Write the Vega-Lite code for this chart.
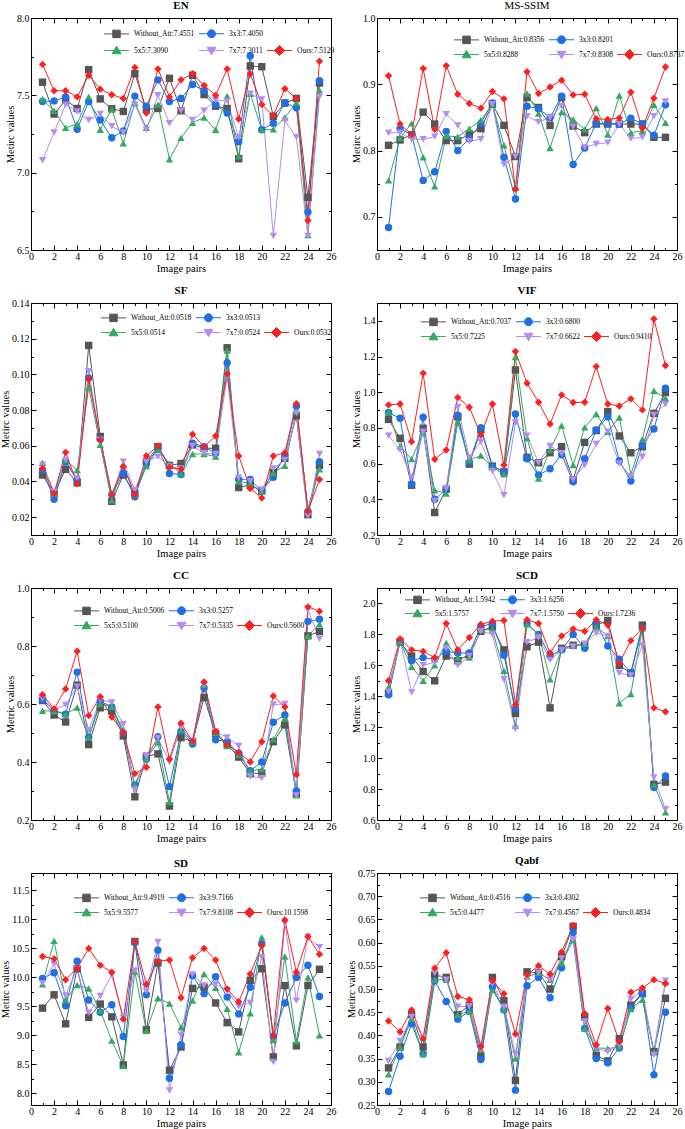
{
"$schema": "https://vega.github.io/schema/vega-lite/v6.json",
"background": "white",
"padding": {"left": 0, "top": 0, "right": 5, "bottom": 0},
"params": [
 {"name": "SH", "value": {"Without_Att": "M-2.5,0H2.5M-0.75,-0.75H0.75V0.75H-0.75Z", "3x3": "M-2.5,0H2.5M-0.8,0A0.8,0.8 0 1,0 0.8,0A0.8,0.8 0 1,0 -0.8,0Z", "5x5": "M-2.5,0H2.5M0,-0.85L0.9,0.65L-0.9,0.65Z", "7x7": "M-2.5,0H2.5M0,0.85L0.9,-0.65L-0.9,-0.65Z", "Ours": "M-2.5,0H2.5M0,-1L1,0L0,1L-1,0Z", "_": "M0,0Z"}},
 {"name": "CL", "value": {"Without_Att": "#555555", "3x3": "#1f6fe5", "5x5": "#35a862", "7x7": "#b58cf0", "Ours": "#ff1f1f", "_": "transparent"}},
 {"name": "LB", "value": {
  "EN": {"Without_Att": "7.4551", "3x3": "7.4050", "5x5": "7.3090", "7x7": "7.3011", "Ours": "7.5129"},
  "MS": {"Without_Att": "0.8356", "3x3": "0.8201", "5x5": "0.8288", "7x7": "0.8308", "Ours": "0.8737"},
  "SF": {"Without_Att": "0.0518", "3x3": "0.0513", "5x5": "0.0514", "7x7": "0.0524", "Ours": "0.0532"},
  "VIF": {"Without_Att": "0.7037", "3x3": "0.6800", "5x5": "0.7225", "7x7": "0.6622", "Ours": "0.9410"},
  "CC": {"Without_Att": "0.5006", "3x3": "0.5257", "5x5": "0.5100", "7x7": "0.5335", "Ours": "0.5600"},
  "SCD": {"Without_Att": "1.5942", "3x3": "1.6256", "5x5": "1.5757", "7x7": "1.5750", "Ours": "1.7236"},
  "SD": {"Without_Att": "9.4919", "3x3": "9.7166", "5x5": "9.5577", "7x7": "9.8108", "Ours": "10.1598"},
  "Qabf": {"Without_Att": "0.4516", "3x3": "0.4302", "5x5": "0.4477", "7x7": "0.4567", "Ours": "0.4834"}}}
],
"config": {
 "font": "Liberation Serif",
 "view": {"stroke": null},
 "axis": {"grid": false, "domainColor": "#000", "tickColor": "#000", "labelColor": "#000", "titleColor": "#000", "labelFontSize": 10, "titleFontSize": 10.5, "titleFontWeight": "normal", "labelFont": "Liberation Serif", "titleFont": "Liberation Serif"},
 "legend": {"labelFont": "Liberation Serif", "labelFontSize": 7.5, "labelColor": "#000", "padding": 0, "rowPadding": 1, "columnPadding": 2, "labelOffset": 12, "labelLimit": 0, "symbolSize": 100},
 "title": {"font": "Liberation Serif", "fontSize": 11, "color": "#000", "offset": 2, "anchor": "middle"}
},
"datasets": {"d": [
{"m":"EN","x":1,"Without_Att":7.585,"3x3":7.46,"5x5":7.475,"7x7":7.08,"Ours":7.70},
{"m":"EN","x":2,"Without_Att":7.379,"3x3":7.464,"5x5":7.40,"7x7":7.26,"Ours":7.53},
{"m":"EN","x":3,"Without_Att":7.47,"3x3":7.49,"5x5":7.29,"7x7":7.44,"Ours":7.53},
{"m":"EN","x":4,"Without_Att":7.415,"3x3":7.281,"5x5":7.315,"7x7":7.396,"Ours":7.49},
{"m":"EN","x":5,"Without_Att":7.666,"3x3":7.46,"5x5":7.49,"7x7":7.34,"Ours":7.63},
{"m":"EN","x":6,"Without_Att":7.477,"3x3":7.34,"5x5":7.277,"7x7":7.38,"Ours":7.54},
{"m":"EN","x":7,"Without_Att":7.413,"3x3":7.226,"5x5":7.41,"7x7":7.30,"Ours":7.504},
{"m":"EN","x":8,"Without_Att":7.396,"3x3":7.27,"5x5":7.19,"7x7":7.26,"Ours":7.48},
{"m":"EN","x":9,"Without_Att":7.64,"3x3":7.495,"5x5":7.45,"7x7":7.44,"Ours":7.68},
{"m":"EN","x":10,"Without_Att":7.41,"3x3":7.43,"5x5":7.29,"7x7":7.277,"Ours":7.385},
{"m":"EN","x":11,"Without_Att":7.415,"3x3":7.60,"5x5":7.44,"7x7":7.50,"Ours":7.67},
{"m":"EN","x":12,"Without_Att":7.61,"3x3":7.46,"5x5":7.087,"7x7":7.32,"Ours":7.49},
{"m":"EN","x":13,"Without_Att":7.40,"3x3":7.48,"5x5":7.225,"7x7":7.40,"Ours":7.60},
{"m":"EN","x":14,"Without_Att":7.63,"3x3":7.57,"5x5":7.323,"7x7":7.34,"Ours":7.64},
{"m":"EN","x":15,"Without_Att":7.505,"3x3":7.53,"5x5":7.357,"7x7":7.40,"Ours":7.564},
{"m":"EN","x":16,"Without_Att":7.43,"3x3":7.44,"5x5":7.277,"7x7":7.468,"Ours":7.50},
{"m":"EN","x":17,"Without_Att":7.415,"3x3":7.385,"5x5":7.495,"7x7":7.464,"Ours":7.67},
{"m":"EN","x":18,"Without_Att":7.09,"3x3":7.20,"5x5":7.106,"7x7":7.23,"Ours":7.347},
{"m":"EN","x":19,"Without_Att":7.69,"3x3":7.755,"5x5":7.51,"7x7":7.51,"Ours":7.64},
{"m":"EN","x":20,"Without_Att":7.685,"3x3":7.277,"5x5":7.277,"7x7":7.474,"Ours":7.44},
{"m":"EN","x":21,"Without_Att":7.364,"3x3":7.32,"5x5":7.28,"7x7":6.59,"Ours":7.368},
{"m":"EN","x":22,"Without_Att":7.45,"3x3":7.45,"5x5":7.357,"7x7":7.336,"Ours":7.543},
{"m":"EN","x":23,"Without_Att":7.48,"3x3":7.42,"5x5":7.453,"7x7":7.23,"Ours":7.48},
{"m":"EN","x":24,"Without_Att":6.84,"3x3":6.745,"5x5":6.596,"7x7":6.59,"Ours":6.69},
{"m":"EN","x":25,"Without_Att":7.58,"3x3":7.595,"5x5":7.532,"7x7":7.49,"Ours":7.72},
{"m":"MS","x":1,"Without_Att":0.808,"3x3":0.684,"5x5":0.755,"7x7":0.827,"Ours":0.913},
{"m":"MS","x":2,"Without_Att":0.816,"3x3":0.833,"5x5":0.819,"7x7":0.827,"Ours":0.840},
{"m":"MS","x":3,"Without_Att":0.824,"3x3":0.824,"5x5":0.841,"7x7":0.817,"Ours":0.824},
{"m":"MS","x":4,"Without_Att":0.858,"3x3":0.755,"5x5":0.790,"7x7":0.817,"Ours":0.924},
{"m":"MS","x":5,"Without_Att":0.840,"3x3":0.768,"5x5":0.746,"7x7":0.821,"Ours":0.832},
{"m":"MS","x":6,"Without_Att":0.815,"3x3":0.829,"5x5":0.822,"7x7":0.855,"Ours":0.928},
{"m":"MS","x":7,"Without_Att":0.815,"3x3":0.800,"5x5":0.821,"7x7":0.838,"Ours":0.885},
{"m":"MS","x":8,"Without_Att":0.825,"3x3":0.818,"5x5":0.833,"7x7":0.814,"Ours":0.871},
{"m":"MS","x":9,"Without_Att":0.833,"3x3":0.841,"5x5":0.846,"7x7":0.817,"Ours":0.864},
{"m":"MS","x":10,"Without_Att":0.870,"3x3":0.872,"5x5":0.870,"7x7":0.870,"Ours":0.889},
{"m":"MS","x":11,"Without_Att":0.838,"3x3":0.790,"5x5":0.808,"7x7":0.779,"Ours":0.878},
{"m":"MS","x":12,"Without_Att":0.791,"3x3":0.727,"5x5":0.744,"7x7":0.791,"Ours":0.742},
{"m":"MS","x":13,"Without_Att":0.880,"3x3":0.867,"5x5":0.886,"7x7":0.852,"Ours":0.919},
{"m":"MS","x":14,"Without_Att":0.865,"3x3":0.863,"5x5":0.856,"7x7":0.843,"Ours":0.886},
{"m":"MS","x":15,"Without_Att":0.838,"3x3":0.850,"5x5":0.804,"7x7":0.850,"Ours":0.896},
{"m":"MS","x":16,"Without_Att":0.880,"3x3":0.882,"5x5":0.858,"7x7":0.867,"Ours":0.906},
{"m":"MS","x":17,"Without_Att":0.837,"3x3":0.779,"5x5":0.847,"7x7":0.836,"Ours":0.884},
{"m":"MS","x":18,"Without_Att":0.827,"3x3":0.804,"5x5":0.832,"7x7":0.805,"Ours":0.885},
{"m":"MS","x":19,"Without_Att":0.840,"3x3":0.841,"5x5":0.864,"7x7":0.810,"Ours":0.848},
{"m":"MS","x":20,"Without_Att":0.840,"3x3":0.841,"5x5":0.824,"7x7":0.812,"Ours":0.847},
{"m":"MS","x":21,"Without_Att":0.840,"3x3":0.840,"5x5":0.883,"7x7":0.840,"Ours":0.849},
{"m":"MS","x":22,"Without_Att":0.840,"3x3":0.849,"5x5":0.827,"7x7":0.818,"Ours":0.888},
{"m":"MS","x":23,"Without_Att":0.840,"3x3":0.840,"5x5":0.830,"7x7":0.820,"Ours":0.834},
{"m":"MS","x":24,"Without_Att":0.820,"3x3":0.823,"5x5":0.869,"7x7":0.852,"Ours":0.879},
{"m":"MS","x":25,"Without_Att":0.820,"3x3":0.869,"5x5":0.842,"7x7":0.874,"Ours":0.926},
{"m":"SF","x":1,"Without_Att":0.0436,"3x3":0.0464,"5x5":0.0505,"7x7":0.0492,"Ours":0.0473},
{"m":"SF","x":2,"Without_Att":0.0332,"3x3":0.030,"5x5":0.0332,"7x7":0.0342,"Ours":0.0332},
{"m":"SF","x":3,"Without_Att":0.0468,"3x3":0.051,"5x5":0.052,"7x7":0.052,"Ours":0.0563},
{"m":"SF","x":4,"Without_Att":0.0392,"3x3":0.0408,"5x5":0.0464,"7x7":0.0417,"Ours":0.0389},
{"m":"SF","x":5,"Without_Att":0.1162,"3x3":0.098,"5x5":0.0928,"7x7":0.1018,"Ours":0.0975},
{"m":"SF","x":6,"Without_Att":0.0652,"3x3":0.0637,"5x5":0.0605,"7x7":0.0633,"Ours":0.0633},
{"m":"SF","x":7,"Without_Att":0.0289,"3x3":0.0327,"5x5":0.0295,"7x7":0.0323,"Ours":0.0327},
{"m":"SF","x":8,"Without_Att":0.0436,"3x3":0.0445,"5x5":0.0496,"7x7":0.0511,"Ours":0.0483},
{"m":"SF","x":9,"Without_Att":0.0332,"3x3":0.0314,"5x5":0.0327,"7x7":0.0351,"Ours":0.0327},
{"m":"SF","x":10,"Without_Att":0.0511,"3x3":0.0498,"5x5":0.0486,"7x7":0.051,"Ours":0.0543},
{"m":"SF","x":11,"Without_Att":0.0595,"3x3":0.0586,"5x5":0.0577,"7x7":0.0539,"Ours":0.0599},
{"m":"SF","x":12,"Without_Att":0.049,"3x3":0.0445,"5x5":0.0501,"7x7":0.0483,"Ours":0.0479},
{"m":"SF","x":13,"Without_Att":0.0501,"3x3":0.0439,"5x5":0.0441,"7x7":0.0473,"Ours":0.0468},
{"m":"SF","x":14,"Without_Att":0.0605,"3x3":0.0614,"5x5":0.0554,"7x7":0.0599,"Ours":0.0665},
{"m":"SF","x":15,"Without_Att":0.0586,"3x3":0.0595,"5x5":0.0554,"7x7":0.0558,"Ours":0.0595},
{"m":"SF","x":16,"Without_Att":0.0586,"3x3":0.0558,"5x5":0.0539,"7x7":0.0552,"Ours":0.0655},
{"m":"SF","x":17,"Without_Att":0.1149,"3x3":0.1065,"5x5":0.1134,"7x7":0.099,"Ours":0.1003},
{"m":"SF","x":18,"Without_Att":0.0366,"3x3":0.0411,"5x5":0.040,"7x7":0.0421,"Ours":0.0543},
{"m":"SF","x":19,"Without_Att":0.038,"3x3":0.0411,"5x5":0.0389,"7x7":0.0402,"Ours":0.0361},
{"m":"SF","x":20,"Without_Att":0.0346,"3x3":0.0347,"5x5":0.0342,"7x7":0.0355,"Ours":0.0308},
{"m":"SF","x":21,"Without_Att":0.045,"3x3":0.0423,"5x5":0.0449,"7x7":0.0473,"Ours":0.0543},
{"m":"SF","x":22,"Without_Att":0.053,"3x3":0.055,"5x5":0.0488,"7x7":0.052,"Ours":0.0561},
{"m":"SF","x":23,"Without_Att":0.0768,"3x3":0.0821,"5x5":0.0792,"7x7":0.0783,"Ours":0.0836},
{"m":"SF","x":24,"Without_Att":0.0214,"3x3":0.0233,"5x5":0.0248,"7x7":0.0207,"Ours":0.0233},
{"m":"SF","x":25,"Without_Att":0.049,"3x3":0.0511,"5x5":0.0468,"7x7":0.0554,"Ours":0.0411},
{"m":"VIF","x":1,"Without_Att":0.848,"3x3":0.886,"5x5":0.888,"7x7":0.757,"Ours":0.929},
{"m":"VIF","x":2,"Without_Att":0.742,"3x3":0.854,"5x5":0.695,"7x7":0.676,"Ours":0.934},
{"m":"VIF","x":3,"Without_Att":0.479,"3x3":0.485,"5x5":0.625,"7x7":0.522,"Ours":0.723},
{"m":"VIF","x":4,"Without_Att":0.798,"3x3":0.86,"5x5":0.775,"7x7":0.779,"Ours":1.107},
{"m":"VIF","x":5,"Without_Att":0.326,"3x3":0.40,"5x5":0.451,"7x7":0.391,"Ours":0.624},
{"m":"VIF","x":6,"Without_Att":0.457,"3x3":0.455,"5x5":0.433,"7x7":0.461,"Ours":0.676},
{"m":"VIF","x":7,"Without_Att":0.863,"3x3":0.871,"5x5":0.831,"7x7":0.916,"Ours":0.97},
{"m":"VIF","x":8,"Without_Att":0.597,"3x3":0.607,"5x5":0.62,"7x7":0.635,"Ours":0.916},
{"m":"VIF","x":9,"Without_Att":0.79,"3x3":0.801,"5x5":0.645,"7x7":0.723,"Ours":0.76},
{"m":"VIF","x":10,"Without_Att":0.586,"3x3":0.586,"5x5":0.58,"7x7":0.558,"Ours":0.934},
{"m":"VIF","x":11,"Without_Att":0.554,"3x3":0.554,"5x5":0.54,"7x7":0.423,"Ours":0.592},
{"m":"VIF","x":12,"Without_Att":1.125,"3x3":0.878,"5x5":1.197,"7x7":0.83,"Ours":1.228},
{"m":"VIF","x":13,"Without_Att":0.635,"3x3":0.627,"5x5":0.742,"7x7":0.757,"Ours":1.051},
{"m":"VIF","x":14,"Without_Att":0.605,"3x3":0.536,"5x5":0.517,"7x7":0.605,"Ours":0.944},
{"m":"VIF","x":15,"Without_Att":0.661,"3x3":0.571,"5x5":0.676,"7x7":0.699,"Ours":0.822},
{"m":"VIF","x":16,"Without_Att":0.695,"3x3":0.65,"5x5":0.813,"7x7":0.657,"Ours":0.985},
{"m":"VIF","x":17,"Without_Att":0.51,"3x3":0.498,"5x5":0.592,"7x7":0.511,"Ours":0.942},
{"m":"VIF","x":18,"Without_Att":0.719,"3x3":0.627,"5x5":0.803,"7x7":0.592,"Ours":0.944},
{"m":"VIF","x":19,"Without_Att":0.785,"3x3":0.788,"5x5":0.878,"7x7":0.71,"Ours":1.144},
{"m":"VIF","x":20,"Without_Att":0.891,"3x3":0.863,"5x5":0.779,"7x7":0.779,"Ours":0.934},
{"m":"VIF","x":21,"Without_Att":0.755,"3x3":0.616,"5x5":0.858,"7x7":0.601,"Ours":0.923},
{"m":"VIF","x":22,"Without_Att":0.661,"3x3":0.502,"5x5":0.54,"7x7":0.53,"Ours":0.963},
{"m":"VIF","x":23,"Without_Att":0.695,"3x3":0.704,"5x5":0.736,"7x7":0.638,"Ours":0.901},
{"m":"VIF","x":24,"Without_Att":0.882,"3x3":0.794,"5x5":1.008,"7x7":0.873,"Ours":1.41},
{"m":"VIF","x":25,"Without_Att":0.998,"3x3":1.022,"5x5":0.966,"7x7":0.933,"Ours":1.15},
{"m":"CC","x":1,"Without_Att":0.612,"3x3":0.615,"5x5":0.577,"7x7":0.62,"Ours":0.632},
{"m":"CC","x":2,"Without_Att":0.562,"3x3":0.578,"5x5":0.575,"7x7":0.58,"Ours":0.583},
{"m":"CC","x":3,"Without_Att":0.538,"3x3":0.565,"5x5":0.565,"7x7":0.597,"Ours":0.652},
{"m":"CC","x":4,"Without_Att":0.665,"3x3":0.71,"5x5":0.588,"7x7":0.66,"Ours":0.782},
{"m":"CC","x":5,"Without_Att":0.46,"3x3":0.485,"5x5":0.485,"7x7":0.51,"Ours":0.56},
{"m":"CC","x":6,"Without_Att":0.587,"3x3":0.61,"5x5":0.60,"7x7":0.615,"Ours":0.625},
{"m":"CC","x":7,"Without_Att":0.575,"3x3":0.59,"5x5":0.59,"7x7":0.605,"Ours":0.555},
{"m":"CC","x":8,"Without_Att":0.49,"3x3":0.50,"5x5":0.51,"7x7":0.53,"Ours":0.502},
{"m":"CC","x":9,"Without_Att":0.28,"3x3":0.32,"5x5":0.322,"7x7":0.305,"Ours":0.36},
{"m":"CC","x":10,"Without_Att":0.42,"3x3":0.41,"5x5":0.41,"7x7":0.42,"Ours":0.382},
{"m":"CC","x":11,"Without_Att":0.428,"3x3":0.487,"5x5":0.468,"7x7":0.483,"Ours":0.59},
{"m":"CC","x":12,"Without_Att":0.248,"3x3":0.315,"5x5":0.262,"7x7":0.40,"Ours":0.41},
{"m":"CC","x":13,"Without_Att":0.484,"3x3":0.505,"5x5":0.51,"7x7":0.52,"Ours":0.534},
{"m":"CC","x":14,"Without_Att":0.47,"3x3":0.462,"5x5":0.47,"7x7":0.47,"Ours":0.472},
{"m":"CC","x":15,"Without_Att":0.622,"3x3":0.655,"5x5":0.665,"7x7":0.665,"Ours":0.676},
{"m":"CC","x":16,"Without_Att":0.498,"3x3":0.477,"5x5":0.50,"7x7":0.505,"Ours":0.505},
{"m":"CC","x":17,"Without_Att":0.46,"3x3":0.47,"5x5":0.455,"7x7":0.485,"Ours":0.46},
{"m":"CC","x":18,"Without_Att":0.417,"3x3":0.43,"5x5":0.425,"7x7":0.455,"Ours":0.433},
{"m":"CC","x":19,"Without_Att":0.36,"3x3":0.37,"5x5":0.37,"7x7":0.35,"Ours":0.40},
{"m":"CC","x":20,"Without_Att":0.362,"3x3":0.40,"5x5":0.375,"7x7":0.345,"Ours":0.47},
{"m":"CC","x":21,"Without_Att":0.47,"3x3":0.537,"5x5":0.478,"7x7":0.598,"Ours":0.628},
{"m":"CC","x":22,"Without_Att":0.528,"3x3":0.562,"5x5":0.55,"7x7":0.60,"Ours":0.59},
{"m":"CC","x":23,"Without_Att":0.29,"3x3":0.30,"5x5":0.285,"7x7":0.285,"Ours":0.357},
{"m":"CC","x":24,"Without_Att":0.835,"3x3":0.885,"5x5":0.835,"7x7":0.925,"Ours":0.935},
{"m":"CC","x":25,"Without_Att":0.85,"3x3":0.892,"5x5":0.875,"7x7":0.825,"Ours":0.92},
{"m":"SCD","x":1,"Without_Att":1.42,"3x3":1.41,"5x5":1.46,"7x7":1.43,"Ours":1.50},
{"m":"SCD","x":2,"Without_Att":1.75,"3x3":1.76,"5x5":1.75,"7x7":1.76,"Ours":1.77},
{"m":"SCD","x":3,"Without_Att":1.66,"3x3":1.63,"5x5":1.59,"7x7":1.425,"Ours":1.70},
{"m":"SCD","x":4,"Without_Att":1.56,"3x3":1.65,"5x5":1.50,"7x7":1.60,"Ours":1.69},
{"m":"SCD","x":5,"Without_Att":1.50,"3x3":1.64,"5x5":1.60,"7x7":1.62,"Ours":1.65},
{"m":"SCD","x":6,"Without_Att":1.66,"3x3":1.69,"5x5":1.745,"7x7":1.71,"Ours":1.87},
{"m":"SCD","x":7,"Without_Att":1.63,"3x3":1.68,"5x5":1.65,"7x7":1.60,"Ours":1.70},
{"m":"SCD","x":8,"Without_Att":1.67,"3x3":1.68,"5x5":1.65,"7x7":1.66,"Ours":1.78},
{"m":"SCD","x":9,"Without_Att":1.82,"3x3":1.85,"5x5":1.83,"7x7":1.82,"Ours":1.865},
{"m":"SCD","x":10,"Without_Att":1.85,"3x3":1.87,"5x5":1.83,"7x7":1.80,"Ours":1.885},
{"m":"SCD","x":11,"Without_Att":1.70,"3x3":1.665,"5x5":1.565,"7x7":1.51,"Ours":1.89},
{"m":"SCD","x":12,"Without_Att":1.29,"3x3":1.32,"5x5":1.21,"7x7":1.19,"Ours":1.345},
{"m":"SCD","x":13,"Without_Att":1.72,"3x3":1.87,"5x5":1.865,"7x7":1.75,"Ours":1.895},
{"m":"SCD","x":14,"Without_Att":1.75,"3x3":1.80,"5x5":1.80,"7x7":1.78,"Ours":1.87},
{"m":"SCD","x":15,"Without_Att":1.325,"3x3":1.66,"5x5":1.51,"7x7":1.635,"Ours":1.68},
{"m":"SCD","x":16,"Without_Att":1.71,"3x3":1.70,"5x5":1.70,"7x7":1.70,"Ours":1.79},
{"m":"SCD","x":17,"Without_Att":1.73,"3x3":1.80,"5x5":1.73,"7x7":1.72,"Ours":1.835},
{"m":"SCD","x":18,"Without_Att":1.73,"3x3":1.71,"5x5":1.74,"7x7":1.74,"Ours":1.82},
{"m":"SCD","x":19,"Without_Att":1.86,"3x3":1.87,"5x5":1.85,"7x7":1.81,"Ours":1.895},
{"m":"SCD","x":20,"Without_Att":1.89,"3x3":1.725,"5x5":1.79,"7x7":1.79,"Ours":1.86},
{"m":"SCD","x":21,"Without_Att":1.60,"3x3":1.64,"5x5":1.355,"7x7":1.55,"Ours":1.615},
{"m":"SCD","x":22,"Without_Att":1.55,"3x3":1.55,"5x5":1.415,"7x7":1.535,"Ours":1.76},
{"m":"SCD","x":23,"Without_Att":1.86,"3x3":1.84,"5x5":1.84,"7x7":1.73,"Ours":1.84},
{"m":"SCD","x":24,"Without_Att":0.83,"3x3":0.81,"5x5":0.83,"7x7":0.875,"Ours":1.325},
{"m":"SCD","x":25,"Without_Att":0.845,"3x3":0.885,"5x5":0.65,"7x7":0.67,"Ours":1.30},
{"m":"SD","x":1,"Without_Att":9.47,"3x3":9.98,"5x5":9.88,"7x7":9.90,"Ours":10.36},
{"m":"SD","x":2,"Without_Att":9.70,"3x3":10.08,"5x5":10.63,"7x7":10.23,"Ours":10.32},
{"m":"SD","x":3,"Without_Att":9.20,"3x3":9.51,"5x5":9.62,"7x7":9.69,"Ours":9.96},
{"m":"SD","x":4,"Without_Att":10.15,"3x3":10.28,"5x5":9.87,"7x7":10.15,"Ours":10.16},
{"m":"SD","x":5,"Without_Att":9.31,"3x3":9.61,"5x5":9.81,"7x7":9.39,"Ours":10.50},
{"m":"SD","x":6,"Without_Att":9.54,"3x3":9.40,"5x5":9.43,"7x7":9.68,"Ours":10.21},
{"m":"SD","x":7,"Without_Att":9.32,"3x3":9.53,"5x5":8.91,"7x7":10.04,"Ours":10.09},
{"m":"SD","x":8,"Without_Att":8.49,"3x3":8.98,"5x5":8.47,"7x7":9.30,"Ours":9.28},
{"m":"SD","x":9,"Without_Att":10.62,"3x3":10.60,"5x5":10.10,"7x7":10.12,"Ours":10.62},
{"m":"SD","x":10,"Without_Att":9.10,"3x3":9.70,"5x5":9.08,"7x7":9.76,"Ours":9.88},
{"m":"SD","x":11,"Without_Att":10.25,"3x3":10.47,"5x5":9.64,"7x7":10.61,"Ours":10.28},
{"m":"SD","x":12,"Without_Att":8.40,"3x3":8.26,"5x5":9.55,"7x7":8.05,"Ours":10.30},
{"m":"SD","x":13,"Without_Att":8.80,"3x3":8.84,"5x5":9.14,"7x7":9.01,"Ours":9.65},
{"m":"SD","x":14,"Without_Att":9.81,"3x3":10.03,"5x5":9.60,"7x7":10.05,"Ours":10.34},
{"m":"SD","x":15,"Without_Att":9.83,"3x3":9.72,"5x5":10.06,"7x7":9.86,"Ours":10.50},
{"m":"SD","x":16,"Without_Att":9.56,"3x3":10.01,"5x5":9.82,"7x7":9.88,"Ours":10.30},
{"m":"SD","x":17,"Without_Att":9.22,"3x3":9.66,"5x5":9.46,"7x7":9.78,"Ours":9.80},
{"m":"SD","x":18,"Without_Att":9.06,"3x3":9.37,"5x5":8.71,"7x7":9.50,"Ours":9.58},
{"m":"SD","x":19,"Without_Att":9.95,"3x3":9.83,"5x5":9.38,"7x7":9.56,"Ours":10.06},
{"m":"SD","x":20,"Without_Att":10.15,"3x3":10.58,"5x5":10.69,"7x7":10.35,"Ours":10.55},
{"m":"SD","x":21,"Without_Att":8.63,"3x3":8.98,"5x5":8.92,"7x7":8.54,"Ours":9.00},
{"m":"SD","x":22,"Without_Att":9.86,"3x3":9.56,"5x5":10.36,"7x7":10.93,"Ours":10.99},
{"m":"SD","x":23,"Without_Att":8.82,"3x3":10.00,"5x5":8.90,"7x7":9.60,"Ours":10.09},
{"m":"SD","x":24,"Without_Att":9.86,"3x3":10.21,"5x5":10.00,"7x7":10.70,"Ours":10.70},
{"m":"SD","x":25,"Without_Att":10.14,"3x3":9.67,"5x5":9.00,"7x7":10.52,"Ours":10.40},
{"m":"Qabf","x":1,"Without_Att":0.33,"3x3":0.279,"5x5":0.316,"7x7":0.345,"Ours":0.431},
{"m":"Qabf","x":2,"Without_Att":0.375,"3x3":0.355,"5x5":0.375,"7x7":0.388,"Ours":0.408},
{"m":"Qabf","x":3,"Without_Att":0.445,"3x3":0.425,"5x5":0.435,"7x7":0.44,"Ours":0.455},
{"m":"Qabf","x":4,"Without_Att":0.375,"3x3":0.36,"5x5":0.36,"7x7":0.395,"Ours":0.393},
{"m":"Qabf","x":5,"Without_Att":0.53,"3x3":0.517,"5x5":0.52,"7x7":0.535,"Ours":0.545},
{"m":"Qabf","x":6,"Without_Att":0.525,"3x3":0.473,"5x5":0.52,"7x7":0.52,"Ours":0.578},
{"m":"Qabf","x":7,"Without_Att":0.445,"3x3":0.435,"5x5":0.445,"7x7":0.462,"Ours":0.484},
{"m":"Qabf","x":8,"Without_Att":0.465,"3x3":0.452,"5x5":0.452,"7x7":0.463,"Ours":0.477},
{"m":"Qabf","x":9,"Without_Att":0.355,"3x3":0.348,"5x5":0.37,"7x7":0.37,"Ours":0.376},
{"m":"Qabf","x":10,"Without_Att":0.525,"3x3":0.505,"5x5":0.498,"7x7":0.512,"Ours":0.518},
{"m":"Qabf","x":11,"Without_Att":0.475,"3x3":0.455,"5x5":0.456,"7x7":0.462,"Ours":0.49},
{"m":"Qabf","x":12,"Without_Att":0.303,"3x3":0.282,"5x5":0.35,"7x7":0.36,"Ours":0.403},
{"m":"Qabf","x":13,"Without_Att":0.537,"3x3":0.507,"5x5":0.527,"7x7":0.525,"Ours":0.531},
{"m":"Qabf","x":14,"Without_Att":0.535,"3x3":0.525,"5x5":0.535,"7x7":0.535,"Ours":0.55},
{"m":"Qabf","x":15,"Without_Att":0.50,"3x3":0.481,"5x5":0.52,"7x7":0.52,"Ours":0.532},
{"m":"Qabf","x":16,"Without_Att":0.57,"3x3":0.546,"5x5":0.556,"7x7":0.566,"Ours":0.58},
{"m":"Qabf","x":17,"Without_Att":0.635,"3x3":0.622,"5x5":0.605,"7x7":0.607,"Ours":0.637},
{"m":"Qabf","x":18,"Without_Att":0.44,"3x3":0.415,"5x5":0.415,"7x7":0.43,"Ours":0.447},
{"m":"Qabf","x":19,"Without_Att":0.357,"3x3":0.35,"5x5":0.373,"7x7":0.373,"Ours":0.38},
{"m":"Qabf","x":20,"Without_Att":0.345,"3x3":0.341,"5x5":0.372,"7x7":0.365,"Ours":0.458},
{"m":"Qabf","x":21,"Without_Att":0.393,"3x3":0.373,"5x5":0.375,"7x7":0.38,"Ours":0.387},
{"m":"Qabf","x":22,"Without_Att":0.465,"3x3":0.46,"5x5":0.457,"7x7":0.478,"Ours":0.493},
{"m":"Qabf","x":23,"Without_Att":0.49,"3x3":0.49,"5x5":0.477,"7x7":0.498,"Ours":0.502},
{"m":"Qabf","x":24,"Without_Att":0.365,"3x3":0.315,"5x5":0.365,"7x7":0.358,"Ours":0.52},
{"m":"Qabf","x":25,"Without_Att":0.48,"3x3":0.45,"5x5":0.515,"7x7":0.518,"Ours":0.512}
]},
"columns": 2,
"spacing": {"row": 53, "column": 46},
"bounds": "flush",
"resolve": {"scale": {"color": "independent", "shape": "independent"}, "legend": {"color": "independent", "shape": "independent"}},
"concat": [
{"title": {"text": "EN", "fontWeight": "bold"}, "width": 300, "height": 232, "data": {"name": "d"},
 "transform": [{"filter": "datum.m === 'EN'"}, {"fold": ["Without_Att","3x3","5x5","7x7","Ours"], "as": ["s","v"]}],
 "resolve": {"axis": {"x": "independent", "y": "independent"}},
 "layer": [
  {"mark": {"type": "line", "strokeWidth": 1}, "encoding": {
   "x": {"field": "x", "type": "quantitative", "scale": {"domain": [0,26], "nice": false}, "axis": {"orient": "bottom", "values": [0,1,2,3,4,5,6,7,8,9,10,11,12,13,14,15,16,17,18,19,20,21,22,23,24,25,26], "labelExpr": "datum.value % 2 === 0 ? datum.label : ''", "tickSize": {"condition": {"test": "datum.value % 2 === 0", "value": -5}, "value": -2.5}, "labelPadding": 6, "labelFlush": false, "labelOverlap": false, "title": "Image pairs", "titlePadding": 0}},
   "y": {"field": "v", "type": "quantitative", "scale": {"domain": [6.5,8], "nice": false, "zero": false}, "axis": {"orient": "left", "values": [6.5,6.75,7,7.25,7.5,7.75,8], "format": ".1f", "labelExpr": "round(datum.value*4) % 2 === 0 ? datum.label : ''", "tickSize": {"condition": {"test": "round(datum.value*4) % 2 === 0", "value": -5}, "value": -2.5}, "labelPadding": 7, "labelFlush": false, "labelOverlap": false, "title": "Metirc values", "titlePadding": 1}},
   "color": {"field": "s", "type": "nominal", "scale": {"domain": ["Without_Att","3x3","_","5x5","7x7","Ours"], "range": ["#555555","#1f6fe5","#ffffff","#35a862","#b58cf0","#ff1f1f"]},
    "legend": {"orient": "none", "legendX": 80, "legendY": 10, "rowPadding": 3, "direction": "horizontal", "columns": 3, "title": null, "labelExpr": "datum.label === '_' ? '' : datum.label + ':' + LB.EN[datum.label]", "encode": {"symbols": {"update": {"shape": {"signal": "SH[datum.value]"}, "fill": {"signal": "CL[datum.value]"}, "stroke": {"signal": "CL[datum.value]"}, "strokeWidth": {"value": 1}, "opacity": {"value": 1}, "size": {"value": 100}}}}}}}},
  {"mark": {"type": "point", "filled": true, "size": 55, "opacity": 1}, "encoding": {
   "x": {"field": "x", "type": "quantitative", "scale": {"domain": [0,26], "nice": false}, "axis": {"orient": "top", "values": [0,1,2,3,4,5,6,7,8,9,10,11,12,13,14,15,16,17,18,19,20,21,22,23,24,25,26], "labels": false, "title": null, "tickSize": {"condition": {"test": "datum.value % 2 === 0", "value": -5}, "value": -2.5}}},
   "y": {"field": "v", "type": "quantitative", "scale": {"domain": [6.5,8], "nice": false, "zero": false}, "axis": {"orient": "right", "values": [6.5,6.75,7,7.25,7.5,7.75,8], "labels": false, "title": null, "tickSize": {"condition": {"test": "round(datum.value*4) % 2 === 0", "value": -5}, "value": -2.5}}},
   "color": {"field": "s", "type": "nominal", "scale": {"domain": ["Without_Att","3x3","_","5x5","7x7","Ours"], "range": ["#555555","#1f6fe5","#ffffff","#35a862","#b58cf0","#ff1f1f"]}},
   "shape": {"field": "s", "type": "nominal", "scale": {"domain": ["Without_Att","3x3","5x5","7x7","Ours"], "range": ["square","circle","triangle-up","triangle-down","diamond"]}, "legend": null}}}
 ]},
{"title": {"text": "MS-SSIM", "fontWeight": "normal"}, "width": 300, "height": 232, "data": {"name": "d"},
 "transform": [{"filter": "datum.m === 'MS'"}, {"fold": ["Without_Att","3x3","5x5","7x7","Ours"], "as": ["s","v"]}],
 "resolve": {"axis": {"x": "independent", "y": "independent"}},
 "layer": [
  {"mark": {"type": "line", "strokeWidth": 1}, "encoding": {
   "x": {"field": "x", "type": "quantitative", "scale": {"domain": [0,26], "nice": false}, "axis": {"orient": "bottom", "values": [0,1,2,3,4,5,6,7,8,9,10,11,12,13,14,15,16,17,18,19,20,21,22,23,24,25,26], "labelExpr": "datum.value % 2 === 0 ? datum.label : ''", "tickSize": {"condition": {"test": "datum.value % 2 === 0", "value": -5}, "value": -2.5}, "labelPadding": 6, "labelFlush": false, "labelOverlap": false, "title": "Image pairs", "titlePadding": 0}},
   "y": {"field": "v", "type": "quantitative", "scale": {"domain": [0.65,1], "nice": false, "zero": false}, "axis": {"orient": "left", "values": [0.65,0.7,0.75,0.8,0.85,0.9,0.95,1], "format": ".1f", "labelExpr": "round(datum.value*20) % 2 === 0 ? datum.label : ''", "tickSize": {"condition": {"test": "round(datum.value*20) % 2 === 0", "value": -5}, "value": -2.5}, "labelPadding": 7, "labelFlush": false, "labelOverlap": false, "title": "Metirc values", "titlePadding": 1}},
   "color": {"field": "s", "type": "nominal", "scale": {"domain": ["Without_Att","3x3","_","5x5","7x7","Ours"], "range": ["#555555","#1f6fe5","#ffffff","#35a862","#b58cf0","#ff1f1f"]},
    "legend": {"orient": "none", "legendX": 84, "legendY": 16, "direction": "horizontal", "columns": 3, "title": null, "labelExpr": "datum.label === '_' ? '' : datum.label + ':' + LB.MS[datum.label]", "encode": {"symbols": {"update": {"shape": {"signal": "SH[datum.value]"}, "fill": {"signal": "CL[datum.value]"}, "stroke": {"signal": "CL[datum.value]"}, "strokeWidth": {"value": 1}, "opacity": {"value": 1}, "size": {"value": 100}}}}}}}},
  {"mark": {"type": "point", "filled": true, "size": 55, "opacity": 1}, "encoding": {
   "x": {"field": "x", "type": "quantitative", "scale": {"domain": [0,26], "nice": false}, "axis": {"orient": "top", "values": [0,1,2,3,4,5,6,7,8,9,10,11,12,13,14,15,16,17,18,19,20,21,22,23,24,25,26], "labels": false, "title": null, "tickSize": {"condition": {"test": "datum.value % 2 === 0", "value": -5}, "value": -2.5}}},
   "y": {"field": "v", "type": "quantitative", "scale": {"domain": [0.65,1], "nice": false, "zero": false}, "axis": {"orient": "right", "values": [0.65,0.7,0.75,0.8,0.85,0.9,0.95,1], "labels": false, "title": null, "tickSize": {"condition": {"test": "round(datum.value*20) % 2 === 0", "value": -5}, "value": -2.5}}},
   "color": {"field": "s", "type": "nominal", "scale": {"domain": ["Without_Att","3x3","_","5x5","7x7","Ours"], "range": ["#555555","#1f6fe5","#ffffff","#35a862","#b58cf0","#ff1f1f"]}},
   "shape": {"field": "s", "type": "nominal", "scale": {"domain": ["Without_Att","3x3","5x5","7x7","Ours"], "range": ["square","circle","triangle-up","triangle-down","diamond"]}, "legend": null}}}
 ]},
{"title": {"text": "SF", "fontWeight": "bold"}, "width": 300, "height": 232, "data": {"name": "d"},
 "transform": [{"filter": "datum.m === 'SF'"}, {"fold": ["Without_Att","3x3","5x5","7x7","Ours"], "as": ["s","v"]}],
 "resolve": {"axis": {"x": "independent", "y": "independent"}},
 "layer": [
  {"mark": {"type": "line", "strokeWidth": 1}, "encoding": {
   "x": {"field": "x", "type": "quantitative", "scale": {"domain": [0,26], "nice": false}, "axis": {"orient": "bottom", "values": [0,1,2,3,4,5,6,7,8,9,10,11,12,13,14,15,16,17,18,19,20,21,22,23,24,25,26], "labelExpr": "datum.value % 2 === 0 ? datum.label : ''", "tickSize": {"condition": {"test": "datum.value % 2 === 0", "value": -5}, "value": -2.5}, "labelPadding": 6, "labelFlush": false, "labelOverlap": false, "title": "Image pairs", "titlePadding": 0}},
   "y": {"field": "v", "type": "quantitative", "scale": {"domain": [0.01,0.14], "nice": false, "zero": false}, "axis": {"orient": "left", "values": [0.01,0.02,0.03,0.04,0.05,0.06,0.07,0.08,0.09,0.1,0.11,0.12,0.13,0.14], "format": ".2f", "labelExpr": "round(datum.value*100) % 2 === 0 ? datum.label : ''", "tickSize": {"condition": {"test": "round(datum.value*100) % 2 === 0", "value": -5}, "value": -2.5}, "labelPadding": 7, "labelFlush": false, "labelOverlap": false, "title": "Metirc values", "titlePadding": 1}},
   "color": {"field": "s", "type": "nominal", "scale": {"domain": ["Without_Att","3x3","_","5x5","7x7","Ours"], "range": ["#555555","#1f6fe5","#ffffff","#35a862","#b58cf0","#ff1f1f"]},
    "legend": {"orient": "none", "legendX": 77, "legendY": 9, "direction": "horizontal", "columns": 3, "title": null, "labelExpr": "datum.label === '_' ? '' : datum.label + ':' + LB.SF[datum.label]", "encode": {"symbols": {"update": {"shape": {"signal": "SH[datum.value]"}, "fill": {"signal": "CL[datum.value]"}, "stroke": {"signal": "CL[datum.value]"}, "strokeWidth": {"value": 1}, "opacity": {"value": 1}, "size": {"value": 100}}}}}}}},
  {"mark": {"type": "point", "filled": true, "size": 55, "opacity": 1}, "encoding": {
   "x": {"field": "x", "type": "quantitative", "scale": {"domain": [0,26], "nice": false}, "axis": {"orient": "top", "values": [0,1,2,3,4,5,6,7,8,9,10,11,12,13,14,15,16,17,18,19,20,21,22,23,24,25,26], "labels": false, "title": null, "tickSize": {"condition": {"test": "datum.value % 2 === 0", "value": -5}, "value": -2.5}}},
   "y": {"field": "v", "type": "quantitative", "scale": {"domain": [0.01,0.14], "nice": false, "zero": false}, "axis": {"orient": "right", "values": [0.01,0.02,0.03,0.04,0.05,0.06,0.07,0.08,0.09,0.1,0.11,0.12,0.13,0.14], "labels": false, "title": null, "tickSize": {"condition": {"test": "round(datum.value*100) % 2 === 0", "value": -5}, "value": -2.5}}},
   "color": {"field": "s", "type": "nominal", "scale": {"domain": ["Without_Att","3x3","_","5x5","7x7","Ours"], "range": ["#555555","#1f6fe5","#ffffff","#35a862","#b58cf0","#ff1f1f"]}},
   "shape": {"field": "s", "type": "nominal", "scale": {"domain": ["Without_Att","3x3","5x5","7x7","Ours"], "range": ["square","circle","triangle-up","triangle-down","diamond"]}, "legend": null}}}
 ]},
{"title": {"text": "VIF", "fontWeight": "bold"}, "width": 300, "height": 232, "data": {"name": "d"},
 "transform": [{"filter": "datum.m === 'VIF'"}, {"fold": ["Without_Att","3x3","5x5","7x7","Ours"], "as": ["s","v"]}],
 "resolve": {"axis": {"x": "independent", "y": "independent"}},
 "layer": [
  {"mark": {"type": "line", "strokeWidth": 1}, "encoding": {
   "x": {"field": "x", "type": "quantitative", "scale": {"domain": [0,26], "nice": false}, "axis": {"orient": "bottom", "values": [0,1,2,3,4,5,6,7,8,9,10,11,12,13,14,15,16,17,18,19,20,21,22,23,24,25,26], "labelExpr": "datum.value % 2 === 0 ? datum.label : ''", "tickSize": {"condition": {"test": "datum.value % 2 === 0", "value": -5}, "value": -2.5}, "labelPadding": 6, "labelFlush": false, "labelOverlap": false, "title": "Image pairs", "titlePadding": 0}},
   "y": {"field": "v", "type": "quantitative", "scale": {"domain": [0.2,1.5], "nice": false, "zero": false}, "axis": {"orient": "left", "values": [0.2,0.3,0.4,0.5,0.6,0.7,0.8,0.9,1,1.1,1.2,1.3,1.4,1.5], "format": ".1f", "labelExpr": "round(datum.value*10) % 2 === 0 ? datum.label : ''", "tickSize": {"condition": {"test": "round(datum.value*10) % 2 === 0", "value": -5}, "value": -2.5}, "labelPadding": 7, "labelFlush": false, "labelOverlap": false, "title": "Metirc values", "titlePadding": 1}},
   "color": {"field": "s", "type": "nominal", "scale": {"domain": ["Without_Att","3x3","_","5x5","7x7","Ours"], "range": ["#555555","#1f6fe5","#ffffff","#35a862","#b58cf0","#ff1f1f"]},
    "legend": {"orient": "none", "legendX": 51, "legendY": 13, "direction": "horizontal", "columns": 3, "title": null, "labelExpr": "datum.label === '_' ? '' : datum.label + ':' + LB.VIF[datum.label]", "encode": {"symbols": {"update": {"shape": {"signal": "SH[datum.value]"}, "fill": {"signal": "CL[datum.value]"}, "stroke": {"signal": "CL[datum.value]"}, "strokeWidth": {"value": 1}, "opacity": {"value": 1}, "size": {"value": 100}}}}}}}},
  {"mark": {"type": "point", "filled": true, "size": 55, "opacity": 1}, "encoding": {
   "x": {"field": "x", "type": "quantitative", "scale": {"domain": [0,26], "nice": false}, "axis": {"orient": "top", "values": [0,1,2,3,4,5,6,7,8,9,10,11,12,13,14,15,16,17,18,19,20,21,22,23,24,25,26], "labels": false, "title": null, "tickSize": {"condition": {"test": "datum.value % 2 === 0", "value": -5}, "value": -2.5}}},
   "y": {"field": "v", "type": "quantitative", "scale": {"domain": [0.2,1.5], "nice": false, "zero": false}, "axis": {"orient": "right", "values": [0.2,0.3,0.4,0.5,0.6,0.7,0.8,0.9,1,1.1,1.2,1.3,1.4,1.5], "labels": false, "title": null, "tickSize": {"condition": {"test": "round(datum.value*10) % 2 === 0", "value": -5}, "value": -2.5}}},
   "color": {"field": "s", "type": "nominal", "scale": {"domain": ["Without_Att","3x3","_","5x5","7x7","Ours"], "range": ["#555555","#1f6fe5","#ffffff","#35a862","#b58cf0","#ff1f1f"]}},
   "shape": {"field": "s", "type": "nominal", "scale": {"domain": ["Without_Att","3x3","5x5","7x7","Ours"], "range": ["square","circle","triangle-up","triangle-down","diamond"]}, "legend": null}}}
 ]},
{"title": {"text": "CC", "fontWeight": "bold"}, "width": 300, "height": 232, "data": {"name": "d"},
 "transform": [{"filter": "datum.m === 'CC'"}, {"fold": ["Without_Att","3x3","5x5","7x7","Ours"], "as": ["s","v"]}],
 "resolve": {"axis": {"x": "independent", "y": "independent"}},
 "layer": [
  {"mark": {"type": "line", "strokeWidth": 1}, "encoding": {
   "x": {"field": "x", "type": "quantitative", "scale": {"domain": [0,26], "nice": false}, "axis": {"orient": "bottom", "values": [0,1,2,3,4,5,6,7,8,9,10,11,12,13,14,15,16,17,18,19,20,21,22,23,24,25,26], "labelExpr": "datum.value % 2 === 0 ? datum.label : ''", "tickSize": {"condition": {"test": "datum.value % 2 === 0", "value": -5}, "value": -2.5}, "labelPadding": 6, "labelFlush": false, "labelOverlap": false, "title": "Image pairs", "titlePadding": 0}},
   "y": {"field": "v", "type": "quantitative", "scale": {"domain": [0.2,1.0], "nice": false, "zero": false}, "axis": {"orient": "left", "values": [0.2,0.3,0.4,0.5,0.6,0.7,0.8,0.9,1], "format": ".1f", "labelExpr": "round(datum.value*10) % 2 === 0 ? datum.label : ''", "tickSize": {"condition": {"test": "round(datum.value*10) % 2 === 0", "value": -5}, "value": -2.5}, "labelPadding": 7, "labelFlush": false, "labelOverlap": false, "title": "Metric values", "titlePadding": 1}},
   "color": {"field": "s", "type": "nominal", "scale": {"domain": ["Without_Att","3x3","_","5x5","7x7","Ours"], "range": ["#555555","#1f6fe5","#ffffff","#35a862","#b58cf0","#ff1f1f"]},
    "legend": {"orient": "none", "legendX": 50, "legendY": 17, "direction": "horizontal", "columns": 3, "title": null, "labelExpr": "datum.label === '_' ? '' : datum.label + ':' + LB.CC[datum.label]", "encode": {"symbols": {"update": {"shape": {"signal": "SH[datum.value]"}, "fill": {"signal": "CL[datum.value]"}, "stroke": {"signal": "CL[datum.value]"}, "strokeWidth": {"value": 1}, "opacity": {"value": 1}, "size": {"value": 100}}}}}}}},
  {"mark": {"type": "point", "filled": true, "size": 55, "opacity": 1}, "encoding": {
   "x": {"field": "x", "type": "quantitative", "scale": {"domain": [0,26], "nice": false}, "axis": {"orient": "top", "values": [0,1,2,3,4,5,6,7,8,9,10,11,12,13,14,15,16,17,18,19,20,21,22,23,24,25,26], "labels": false, "title": null, "tickSize": {"condition": {"test": "datum.value % 2 === 0", "value": -5}, "value": -2.5}}},
   "y": {"field": "v", "type": "quantitative", "scale": {"domain": [0.2,1.0], "nice": false, "zero": false}, "axis": {"orient": "right", "values": [0.2,0.3,0.4,0.5,0.6,0.7,0.8,0.9,1], "labels": false, "title": null, "tickSize": {"condition": {"test": "round(datum.value*10) % 2 === 0", "value": -5}, "value": -2.5}}},
   "color": {"field": "s", "type": "nominal", "scale": {"domain": ["Without_Att","3x3","_","5x5","7x7","Ours"], "range": ["#555555","#1f6fe5","#ffffff","#35a862","#b58cf0","#ff1f1f"]}},
   "shape": {"field": "s", "type": "nominal", "scale": {"domain": ["Without_Att","3x3","5x5","7x7","Ours"], "range": ["square","circle","triangle-up","triangle-down","diamond"]}, "legend": null}}}
 ]},
{"title": {"text": "SCD", "fontWeight": "bold"}, "width": 300, "height": 232, "data": {"name": "d"},
 "transform": [{"filter": "datum.m === 'SCD'"}, {"fold": ["Without_Att","3x3","5x5","7x7","Ours"], "as": ["s","v"]}],
 "resolve": {"axis": {"x": "independent", "y": "independent"}},
 "layer": [
  {"mark": {"type": "line", "strokeWidth": 1}, "encoding": {
   "x": {"field": "x", "type": "quantitative", "scale": {"domain": [0,26], "nice": false}, "axis": {"orient": "bottom", "values": [0,1,2,3,4,5,6,7,8,9,10,11,12,13,14,15,16,17,18,19,20,21,22,23,24,25,26], "labelExpr": "datum.value % 2 === 0 ? datum.label : ''", "tickSize": {"condition": {"test": "datum.value % 2 === 0", "value": -5}, "value": -2.5}, "labelPadding": 6, "labelFlush": false, "labelOverlap": false, "title": "Image pairs", "titlePadding": 0}},
   "y": {"field": "v", "type": "quantitative", "scale": {"domain": [0.6,2.1], "nice": false, "zero": false}, "axis": {"orient": "left", "values": [0.6,0.7,0.8,0.9,1,1.1,1.2,1.3,1.4,1.5,1.6,1.7,1.8,1.9,2,2.1], "format": ".1f", "labelExpr": "round(datum.value*10) % 2 === 0 ? datum.label : ''", "tickSize": {"condition": {"test": "round(datum.value*10) % 2 === 0", "value": -5}, "value": -2.5}, "labelPadding": 7, "labelFlush": false, "labelOverlap": false, "title": "Metirc values", "titlePadding": 1}},
   "color": {"field": "s", "type": "nominal", "scale": {"domain": ["Without_Att","3x3","_","5x5","7x7","Ours"], "range": ["#555555","#1f6fe5","#ffffff","#35a862","#b58cf0","#ff1f1f"]},
    "legend": {"orient": "none", "legendX": 35, "legendY": 6, "rowPadding": 0, "direction": "horizontal", "columns": 3, "title": null, "labelExpr": "datum.label === '_' ? '' : datum.label + ':' + LB.SCD[datum.label]", "encode": {"symbols": {"update": {"shape": {"signal": "SH[datum.value]"}, "fill": {"signal": "CL[datum.value]"}, "stroke": {"signal": "CL[datum.value]"}, "strokeWidth": {"value": 1}, "opacity": {"value": 1}, "size": {"value": 100}}}}}}}},
  {"mark": {"type": "point", "filled": true, "size": 55, "opacity": 1}, "encoding": {
   "x": {"field": "x", "type": "quantitative", "scale": {"domain": [0,26], "nice": false}, "axis": {"orient": "top", "values": [0,1,2,3,4,5,6,7,8,9,10,11,12,13,14,15,16,17,18,19,20,21,22,23,24,25,26], "labels": false, "title": null, "tickSize": {"condition": {"test": "datum.value % 2 === 0", "value": -5}, "value": -2.5}}},
   "y": {"field": "v", "type": "quantitative", "scale": {"domain": [0.6,2.1], "nice": false, "zero": false}, "axis": {"orient": "right", "values": [0.6,0.7,0.8,0.9,1,1.1,1.2,1.3,1.4,1.5,1.6,1.7,1.8,1.9,2,2.1], "labels": false, "title": null, "tickSize": {"condition": {"test": "round(datum.value*10) % 2 === 0", "value": -5}, "value": -2.5}}},
   "color": {"field": "s", "type": "nominal", "scale": {"domain": ["Without_Att","3x3","_","5x5","7x7","Ours"], "range": ["#555555","#1f6fe5","#ffffff","#35a862","#b58cf0","#ff1f1f"]}},
   "shape": {"field": "s", "type": "nominal", "scale": {"domain": ["Without_Att","3x3","5x5","7x7","Ours"], "range": ["square","circle","triangle-up","triangle-down","diamond"]}, "legend": null}}}
 ]},
{"title": {"text": "SD", "fontWeight": "bold"}, "width": 300, "height": 232, "data": {"name": "d"},
 "transform": [{"filter": "datum.m === 'SD'"}, {"fold": ["Without_Att","3x3","5x5","7x7","Ours"], "as": ["s","v"]}],
 "resolve": {"axis": {"x": "independent", "y": "independent"}},
 "layer": [
  {"mark": {"type": "line", "strokeWidth": 1}, "encoding": {
   "x": {"field": "x", "type": "quantitative", "scale": {"domain": [0,26], "nice": false}, "axis": {"orient": "bottom", "values": [0,1,2,3,4,5,6,7,8,9,10,11,12,13,14,15,16,17,18,19,20,21,22,23,24,25,26], "labelExpr": "datum.value % 2 === 0 ? datum.label : ''", "tickSize": {"condition": {"test": "datum.value % 2 === 0", "value": -5}, "value": -2.5}, "labelPadding": 6, "labelFlush": false, "labelOverlap": false, "title": "Image pairs", "titlePadding": 0}},
   "y": {"field": "v", "type": "quantitative", "scale": {"domain": [7.8,11.8], "nice": false, "zero": false}, "axis": {"orient": "left", "values": [8,8.25,8.5,8.75,9,9.25,9.5,9.75,10,10.25,10.5,10.75,11,11.25,11.5,11.75], "format": ".1f", "labelExpr": "round(datum.value*4) % 2 === 0 ? datum.label : ''", "tickSize": {"condition": {"test": "round(datum.value*4) % 2 === 0", "value": -5}, "value": -2.5}, "labelPadding": 7, "labelFlush": false, "labelOverlap": false, "title": "Metirc values", "titlePadding": 1}},
   "color": {"field": "s", "type": "nominal", "scale": {"domain": ["Without_Att","3x3","_","5x5","7x7","Ours"], "range": ["#555555","#1f6fe5","#ffffff","#35a862","#b58cf0","#ff1f1f"]},
    "legend": {"orient": "none", "legendX": 50, "legendY": 19, "direction": "horizontal", "columns": 3, "title": null, "labelExpr": "datum.label === '_' ? '' : datum.label + ':' + LB.SD[datum.label]", "encode": {"symbols": {"update": {"shape": {"signal": "SH[datum.value]"}, "fill": {"signal": "CL[datum.value]"}, "stroke": {"signal": "CL[datum.value]"}, "strokeWidth": {"value": 1}, "opacity": {"value": 1}, "size": {"value": 100}}}}}}}},
  {"mark": {"type": "point", "filled": true, "size": 55, "opacity": 1}, "encoding": {
   "x": {"field": "x", "type": "quantitative", "scale": {"domain": [0,26], "nice": false}, "axis": {"orient": "top", "values": [0,1,2,3,4,5,6,7,8,9,10,11,12,13,14,15,16,17,18,19,20,21,22,23,24,25,26], "labels": false, "title": null, "tickSize": {"condition": {"test": "datum.value % 2 === 0", "value": -5}, "value": -2.5}}},
   "y": {"field": "v", "type": "quantitative", "scale": {"domain": [7.8,11.8], "nice": false, "zero": false}, "axis": {"orient": "right", "values": [8,8.25,8.5,8.75,9,9.25,9.5,9.75,10,10.25,10.5,10.75,11,11.25,11.5,11.75], "labels": false, "title": null, "tickSize": {"condition": {"test": "round(datum.value*4) % 2 === 0", "value": -5}, "value": -2.5}}},
   "color": {"field": "s", "type": "nominal", "scale": {"domain": ["Without_Att","3x3","_","5x5","7x7","Ours"], "range": ["#555555","#1f6fe5","#ffffff","#35a862","#b58cf0","#ff1f1f"]}},
   "shape": {"field": "s", "type": "nominal", "scale": {"domain": ["Without_Att","3x3","5x5","7x7","Ours"], "range": ["square","circle","triangle-up","triangle-down","diamond"]}, "legend": null}}}
 ]},
{"title": {"text": "Qabf", "fontWeight": "bold"}, "width": 300, "height": 232, "data": {"name": "d"},
 "transform": [{"filter": "datum.m === 'Qabf'"}, {"fold": ["Without_Att","3x3","5x5","7x7","Ours"], "as": ["s","v"]}],
 "resolve": {"axis": {"x": "independent", "y": "independent"}},
 "layer": [
  {"mark": {"type": "line", "strokeWidth": 1}, "encoding": {
   "x": {"field": "x", "type": "quantitative", "scale": {"domain": [0,26], "nice": false}, "axis": {"orient": "bottom", "values": [0,1,2,3,4,5,6,7,8,9,10,11,12,13,14,15,16,17,18,19,20,21,22,23,24,25,26], "labelExpr": "datum.value % 2 === 0 ? datum.label : ''", "tickSize": {"condition": {"test": "datum.value % 2 === 0", "value": -5}, "value": -2.5}, "labelPadding": 6, "labelFlush": false, "labelOverlap": false, "title": "Image pairs", "titlePadding": 0}},
   "y": {"field": "v", "type": "quantitative", "scale": {"domain": [0.25,0.75], "nice": false, "zero": false}, "axis": {"orient": "left", "values": [0.25,0.275,0.3,0.325,0.35,0.375,0.4,0.425,0.45,0.475,0.5,0.525,0.55,0.575,0.6,0.625,0.65,0.675,0.7,0.725,0.75], "format": ".2f", "labelExpr": "round(datum.value*40) % 2 === 0 ? datum.label : ''", "tickSize": {"condition": {"test": "round(datum.value*40) % 2 === 0", "value": -5}, "value": -2.5}, "labelPadding": 7, "labelFlush": false, "labelOverlap": false, "title": "Metirc values", "titlePadding": 1}},
   "color": {"field": "s", "type": "nominal", "scale": {"domain": ["Without_Att","3x3","_","5x5","7x7","Ours"], "range": ["#555555","#1f6fe5","#ffffff","#35a862","#b58cf0","#ff1f1f"]},
    "legend": {"orient": "none", "legendX": 50, "legendY": 19, "direction": "horizontal", "columns": 3, "title": null, "labelExpr": "datum.label === '_' ? '' : datum.label + ':' + LB.Qabf[datum.label]", "encode": {"symbols": {"update": {"shape": {"signal": "SH[datum.value]"}, "fill": {"signal": "CL[datum.value]"}, "stroke": {"signal": "CL[datum.value]"}, "strokeWidth": {"value": 1}, "opacity": {"value": 1}, "size": {"value": 100}}}}}}}},
  {"mark": {"type": "point", "filled": true, "size": 55, "opacity": 1}, "encoding": {
   "x": {"field": "x", "type": "quantitative", "scale": {"domain": [0,26], "nice": false}, "axis": {"orient": "top", "values": [0,1,2,3,4,5,6,7,8,9,10,11,12,13,14,15,16,17,18,19,20,21,22,23,24,25,26], "labels": false, "title": null, "tickSize": {"condition": {"test": "datum.value % 2 === 0", "value": -5}, "value": -2.5}}},
   "y": {"field": "v", "type": "quantitative", "scale": {"domain": [0.25,0.75], "nice": false, "zero": false}, "axis": {"orient": "right", "values": [0.25,0.275,0.3,0.325,0.35,0.375,0.4,0.425,0.45,0.475,0.5,0.525,0.55,0.575,0.6,0.625,0.65,0.675,0.7,0.725,0.75], "labels": false, "title": null, "tickSize": {"condition": {"test": "round(datum.value*40) % 2 === 0", "value": -5}, "value": -2.5}}},
   "color": {"field": "s", "type": "nominal", "scale": {"domain": ["Without_Att","3x3","_","5x5","7x7","Ours"], "range": ["#555555","#1f6fe5","#ffffff","#35a862","#b58cf0","#ff1f1f"]}},
   "shape": {"field": "s", "type": "nominal", "scale": {"domain": ["Without_Att","3x3","5x5","7x7","Ours"], "range": ["square","circle","triangle-up","triangle-down","diamond"]}, "legend": null}}}
 ]}
]
}
